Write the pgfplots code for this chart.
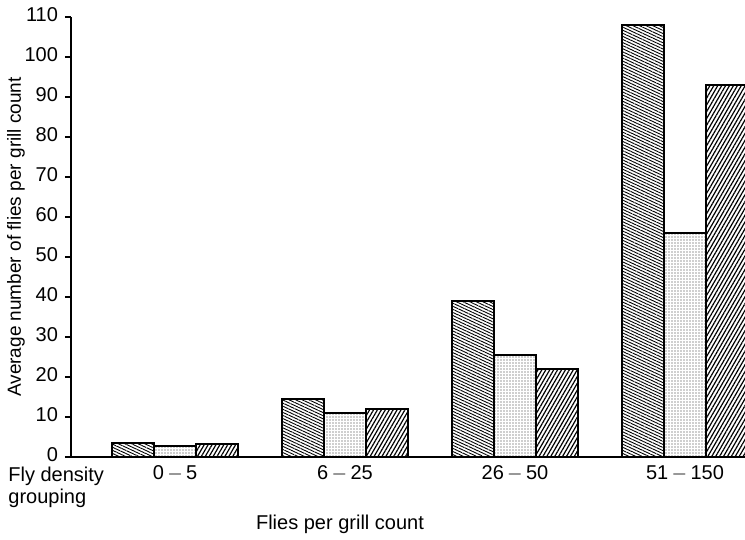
\documentclass[border=0pt]{standalone}
\usepackage{pgfplots}
\pgfplotsset{compat=1.18}
\usepackage{fontspec}
\setmainfont{Liberation Sans}
\usetikzlibrary{patterns.meta}
\begin{document}
\begin{tikzpicture}[font=\fontsize{10}{12}\selectfont]
\path[use as bounding box] (-35.5pt,-41.5pt) rectangle (337pt,228.5pt);
\begin{axis}[
  name=ax,
  at={(0,0)}, anchor=south west,
  scale only axis,
  width=337pt, height=220pt,
  xmin=-0.612, xmax=3.353,
  ymin=0, ymax=110,
  axis x line*=bottom, axis y line*=left,
  axis line style={line width=0.9pt, -},
  ytick={0,10,...,110},
  xtick={0,1,2,3},
  xticklabels={0\,$-$\,5, 6\,$-$\,25, 26\,$-$\,50, 51\,$-$\,150},
  x tick style={draw=none},
  y tick style={line width=0.6pt, black},
  tick align=outside, major tick length=3pt,
  /pgf/number format/assume math mode=true,
  yticklabel style={font=\fontsize{10}{12}\selectfont, yshift=1pt},
  xticklabel style={font=\fontsize{10}{12}\selectfont, yshift=2.5pt},
  ybar, bar width=21pt,
  clip=true,
]
\addplot[bar shift=-21pt, draw=black, line width=0.9pt,
  postaction={pattern={Lines[angle=-25, distance=1.4pt, line width=0.45pt]}}, fill=white]
  coordinates {(0,3.5) (1,14.5) (2,39) (3,108)};
\addplot[bar shift=0pt, draw=black, line width=0.9pt,
  postaction={pattern={Dots[distance=1.5pt, radius=0.28pt]}, pattern color=black!80}, fill=white]
  coordinates {(0,2.8) (1,11) (2,25.5) (3,56)};
\addplot[bar shift=21pt, draw=black, line width=0.9pt,
  postaction={pattern={Lines[angle=60, distance=1.7pt, line width=0.6pt]}}, fill=white]
  coordinates {(0,3.2) (1,12) (2,22) (3,93)};
\end{axis}
\node[rotate=90, anchor=center, inner sep=0pt, font=\fontsize{9.5}{12}\selectfont] at (-27.5pt,110pt) {Average number of flies per grill count};
\node[anchor=north west, align=left, inner sep=0pt, font=\fontsize{10}{11}\selectfont] at (-31.5pt,-5pt) {Fly density\\grouping};
\node[anchor=north, inner sep=0pt, font=\fontsize{10}{12}\selectfont] at (134.5pt,-29pt) {Flies per grill count};
\end{tikzpicture}
\end{document}
